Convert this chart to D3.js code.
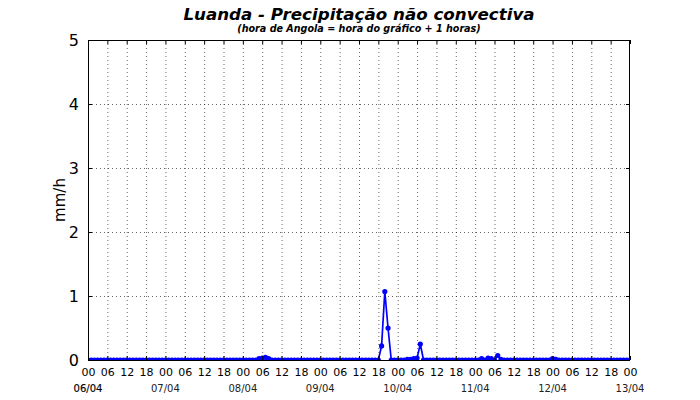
<!DOCTYPE html>
<html>
<head>
<meta charset="utf-8">
<script src="https://cdn.jsdelivr.net/npm/d3@7/dist/d3.min.js"></script>
<style>
  body { margin: 0; background: #fff; }
  svg { display: block; font-family: "DejaVu Sans", sans-serif; }
</style>
</head>
<body>
<svg id="chart" width="700" height="400"></svg>
<script>
// ---- data (hourly precipitation, mm/h), one row per day ----
const dayLabels = ["06/04", "07/04", "08/04", "09/04", "10/04", "11/04", "12/04", "13/04"];
const hourTickLabels = ["00", "06", "12", "18"];
const yTickValues = [0, 1, 2, 3, 4, 5];
const day0 = [0,0,0,0,0,0,0,0,0,0,0,0,0,0,0,0,0,0,0,0,0,0,0,0];
const day1 = [0,0,0,0,0,0,0,0,0,0,0,0,0,0,0,0,0,0,0,0,0,0,0,0];
const day2 = [0,0,0,0,0,0.02,0.03,0.04,0.02,0,0,0,0,0,0,0,0,0,0,0,0,0,0,0];
const day3 = [0,0,0,0,0,0,0,0,0,0,0,0,0,0,0,0,0,0,0,0.22,1.07,0.50,0,0];
const day4 = [0,0,0,0.01,0.01,0.02,0.03,0.25,0,0,0,0,0,0,0,0,0,0,0,0,0,0,0,0];
const day5 = [0,0,0.02,0,0.03,0.02,0,0.07,0.01,0,0,0,0,0,0,0,0,0,0,0,0,0,0,0];
const day6 = [0.02,0.01,0,0,0,0,0,0,0,0,0,0,0,0,0,0,0,0,0,0,0,0,0,0];
const lastValue = [0];
const precip = [].concat(day0, day1, day2, day3, day4, day5, day6, lastValue);

const svg = d3.select("#chart");
const L = 88, R = 630, T = 40, B = 360;
const x = d3.scaleLinear().domain([0, 168]).range([L, R]);
const y = d3.scaleLinear().domain([0, 5]).range([B, T]);

const hourTicks = d3.range(0, 169, 6);

// clip
svg.append("defs").append("clipPath").attr("id", "plotclip")
  .append("rect").attr("x", L).attr("y", T).attr("width", R - L).attr("height", B - T);

// grid
const grid = svg.append("g");
grid.selectAll(".gx").data(hourTicks.slice(1, -1)).join("line")
  .attr("x1", d => x(d) + 0.5).attr("x2", d => x(d) + 0.5)
  .attr("y1", T).attr("y2", B)
  .attr("stroke", "#000").attr("stroke-width", 0.6).attr("stroke-dasharray", "1,3");
grid.selectAll(".gy").data(yTickValues.slice(1, -1)).join("line")
  .attr("x1", L).attr("x2", R)
  .attr("y1", d => Math.round(y(d)) + 0.5).attr("y2", d => Math.round(y(d)) + 0.5)
  .attr("stroke", "#000").attr("stroke-width", 0.6).attr("stroke-dasharray", "1,3");

// data line + markers
const data = precip.map((v, i) => ({ h: i, v }));
const plot = svg.append("g").attr("clip-path", "url(#plotclip)");
plot.append("path").datum(data)
  .attr("fill", "none").attr("stroke", "#0000ff").attr("stroke-width", 1.7)
  .attr("d", d3.line().x(d => x(d.h)).y(d => y(d.v)));
plot.selectAll("circle").data(data).join("circle")
  .attr("cx", d => x(d.h)).attr("cy", d => y(d.v)).attr("r", 2.6)
  .attr("fill", "#0000ff");

// frame
svg.append("rect").attr("x", L + 0.5).attr("y", T + 0.5)
  .attr("width", R - L - 1).attr("height", B - T)
  .attr("fill", "none").attr("stroke", "#000").attr("stroke-width", 1);

// axes (ticks inward)
const xAxisB = d3.axisBottom(x).tickValues(hourTicks).tickSize(-4).tickPadding(8)
  .tickFormat(d => hourTickLabels[(d % 24) / 6]);
const gxB = svg.append("g").attr("transform", `translate(0,${B})`).call(xAxisB);
gxB.select(".domain").remove();
gxB.selectAll("text").attr("font-size", 11).attr("fill", "#000").attr("font-family", "DejaVu Sans");

const xAxisT = d3.axisTop(x).tickValues(hourTicks).tickSize(-4).tickFormat("");
const gxT = svg.append("g").attr("transform", `translate(0,${T})`).call(xAxisT);
gxT.select(".domain").remove();

const yAxisL = d3.axisLeft(y).tickValues(yTickValues).tickSize(-4).tickPadding(9)
  .tickFormat(d3.format("d"));
const gyL = svg.append("g").attr("transform", `translate(${L},0)`).call(yAxisL);
gyL.select(".domain").remove();
gyL.selectAll("text").attr("font-size", 16).attr("fill", "#000").attr("font-family", "DejaVu Sans");

const yAxisR = d3.axisRight(y).tickValues(yTickValues).tickSize(-4).tickFormat("");
const gyR = svg.append("g").attr("transform", `translate(${R},0)`).call(yAxisR);
gyR.select(".domain").remove();

// date labels
svg.append("g").selectAll("text").data(dayLabels).join("text")
  .attr("x", (d, i) => x(i * 24)).attr("y", 392)
  .attr("text-anchor", "middle").attr("font-size", 10)
  .attr("fill", (d, i) => i === 0 ? "#000" : "#222")
  .attr("stroke", (d, i) => i === 0 ? "#000" : "none").attr("stroke-width", 0.15)
  .text(d => d);

// y label
svg.append("text").attr("transform", `translate(65,${(T + B) / 2}) rotate(-90)`)
  .attr("text-anchor", "middle").attr("font-size", 15).attr("fill", "#000")
  .text("mm/h");

// titles
svg.append("text").attr("x", (L + R) / 2).attr("y", 20).attr("text-anchor", "middle")
  .attr("font-size", 16.7).attr("font-weight", "bold").attr("font-style", "italic")
  .text("Luanda - Precipitação não convectiva");
svg.append("text").attr("x", (L + R) / 2).attr("y", 32).attr("text-anchor", "middle")
  .attr("font-size", 9.6).attr("font-weight", "bold").attr("font-style", "italic")
  .text("(hora de Angola = hora do gráfico + 1 horas)");
</script>
</body>
</html>
